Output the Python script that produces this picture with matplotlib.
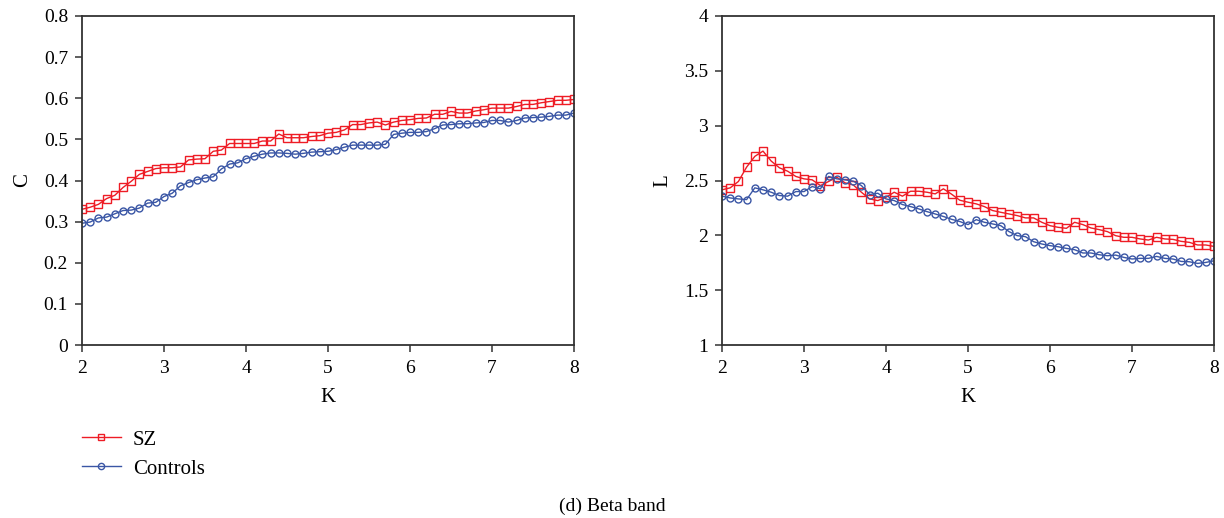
import matplotlib
matplotlib.use("Agg")
import matplotlib.pyplot as plt
from matplotlib.lines import Line2D

K = [round(2.0 + 0.1 * i, 1) for i in range(61)]

C_sz = [0.330, 0.335, 0.342, 0.356, 0.364, 0.383, 0.398, 0.415, 0.422, 0.429,
        0.431, 0.431, 0.433, 0.450, 0.452, 0.453, 0.471, 0.474, 0.490, 0.490,
        0.490, 0.490, 0.496, 0.496, 0.513, 0.504, 0.504, 0.504, 0.507, 0.509,
        0.515, 0.517, 0.523, 0.536, 0.536, 0.540, 0.542, 0.535, 0.542, 0.546,
        0.548, 0.551, 0.552, 0.561, 0.561, 0.568, 0.564, 0.564, 0.569, 0.572,
        0.576, 0.576, 0.576, 0.580, 0.585, 0.585, 0.589, 0.592, 0.595, 0.595,
        0.597]
C_ctrl = [0.296, 0.299, 0.309, 0.311, 0.319, 0.327, 0.328, 0.333, 0.345, 0.347,
          0.361, 0.369, 0.387, 0.395, 0.402, 0.406, 0.409, 0.428, 0.440, 0.443,
          0.453, 0.459, 0.464, 0.467, 0.467, 0.466, 0.464, 0.466, 0.469, 0.470,
          0.471, 0.475, 0.481, 0.486, 0.486, 0.486, 0.486, 0.488, 0.512, 0.515,
          0.517, 0.517, 0.519, 0.526, 0.535, 0.536, 0.538, 0.538, 0.540, 0.541,
          0.546, 0.546, 0.542, 0.546, 0.552, 0.553, 0.554, 0.556, 0.559, 0.559,
          0.564]
L_sz = [2.415, 2.433, 2.491, 2.622, 2.720, 2.768, 2.677, 2.616, 2.585, 2.537,
        2.515, 2.506, 2.454, 2.491, 2.530, 2.479, 2.460, 2.393, 2.332, 2.317,
        2.347, 2.393, 2.357, 2.402, 2.402, 2.393, 2.378, 2.424, 2.375, 2.320,
        2.302, 2.287, 2.262, 2.226, 2.210, 2.195, 2.180, 2.159, 2.159, 2.119,
        2.088, 2.073, 2.064, 2.119, 2.098, 2.067, 2.052, 2.034, 1.997, 1.982,
        1.982, 1.967, 1.957, 1.982, 1.967, 1.963, 1.945, 1.936, 1.912, 1.912,
        1.899]
L_ctrl = [2.357, 2.341, 2.332, 2.326, 2.433, 2.415, 2.393, 2.363, 2.357, 2.399,
          2.399, 2.445, 2.424, 2.537, 2.515, 2.506, 2.494, 2.454, 2.372, 2.384,
          2.332, 2.317, 2.281, 2.262, 2.241, 2.216, 2.195, 2.172, 2.146, 2.126,
          2.098, 2.143, 2.119, 2.104, 2.088, 2.034, 1.997, 1.988, 1.942, 1.921,
          1.906, 1.896, 1.881, 1.869, 1.839, 1.839, 1.823, 1.814, 1.820, 1.799,
          1.784, 1.790, 1.790, 1.808, 1.790, 1.784, 1.762, 1.759, 1.744, 1.753,
          1.768]

series_names = ["SZ", "Controls"]
x_ticks = [2, 3, 4, 5, 6, 7, 8]
C_ticks = [0, 0.1, 0.2, 0.3, 0.4, 0.5, 0.6, 0.7, 0.8]
C_ticklabels = ["0", "0.1", "0.2", "0.3", "0.4", "0.5", "0.6", "0.7", "0.8"]
L_ticks = [1, 1.5, 2, 2.5, 3, 3.5, 4]
L_ticklabels = ["1", "1.5", "2", "2.5", "3", "3.5", "4"]
caption = "(d) Beta band"

plt.rcParams['font.family'] = ['Liberation Serif', 'DejaVu Serif']
plt.rcParams['font.size'] = 14

RED = '#ee1c25'
BLUE = '#3a56a5'
SPINE = '#333333'

fig = plt.figure(figsize=(12.24, 5.18), dpi=100)
axL = fig.add_axes([82/1224, 1 - 345/518, 492/1224, 329/518])
axR = fig.add_axes([722/1224, 1 - 345/518, 492/1224, 329/518])

def style(ax):
    for s in ax.spines.values():
        s.set_color(SPINE)
        s.set_linewidth(1.3)
    ax.tick_params(direction='out', length=5, width=1.1, color=SPINE,
                   top=False, right=False, labelsize=14)
    ax.tick_params(axis='x', pad=6)
    ax.tick_params(axis='y', pad=5)
    ax.set_xlim(2, 8)
    ax.set_xticks(x_ticks)
    ax.set_xticklabels([str(t) for t in x_ticks])
    ax.set_xlabel("K", fontsize=15, labelpad=8)

mk = dict(markerfacecolor='none', markeredgewidth=1.0, linewidth=1.0)

axL.plot(K, C_sz, color=RED, marker='s', markersize=5.5, markeredgecolor=RED, **mk)
axL.plot(K, C_ctrl, color=BLUE, marker='o', markersize=5, markeredgecolor=BLUE, **mk)
style(axL)
axL.set_ylim(0, 0.8)
axL.set_yticks(C_ticks)
axL.set_yticklabels(C_ticklabels)
axL.set_ylabel("C", fontsize=15, labelpad=8)

axR.plot(K, L_sz, color=RED, marker='s', markersize=5.5, markeredgecolor=RED, **mk)
axR.plot(K, L_ctrl, color=BLUE, marker='o', markersize=5, markeredgecolor=BLUE, **mk)
style(axR)
axR.set_ylim(1, 4)
axR.set_yticks(L_ticks)
axR.set_yticklabels(L_ticklabels)
axR.set_ylabel("L", fontsize=15, labelpad=8)

handles = [
    Line2D([], [], color=RED, marker='s', markersize=5, markerfacecolor='none',
           markeredgecolor=RED, linewidth=1.0),
    Line2D([], [], color=BLUE, marker='o', markersize=4.5, markerfacecolor='none',
           markeredgecolor=BLUE, linewidth=1.0),
]
fig.legend(handles, series_names, loc='upper left',
           bbox_to_anchor=(82/1224, 1 - 430/518), frameon=False,
           borderpad=0, borderaxespad=0,
           handlelength=1.85, handletextpad=0.6, labelspacing=0.45, fontsize=15)

fig.text(612/1224, 1 - 506/518, caption, ha='center', va='center', fontsize=14)

fig.savefig("out.png", dpi=100)
